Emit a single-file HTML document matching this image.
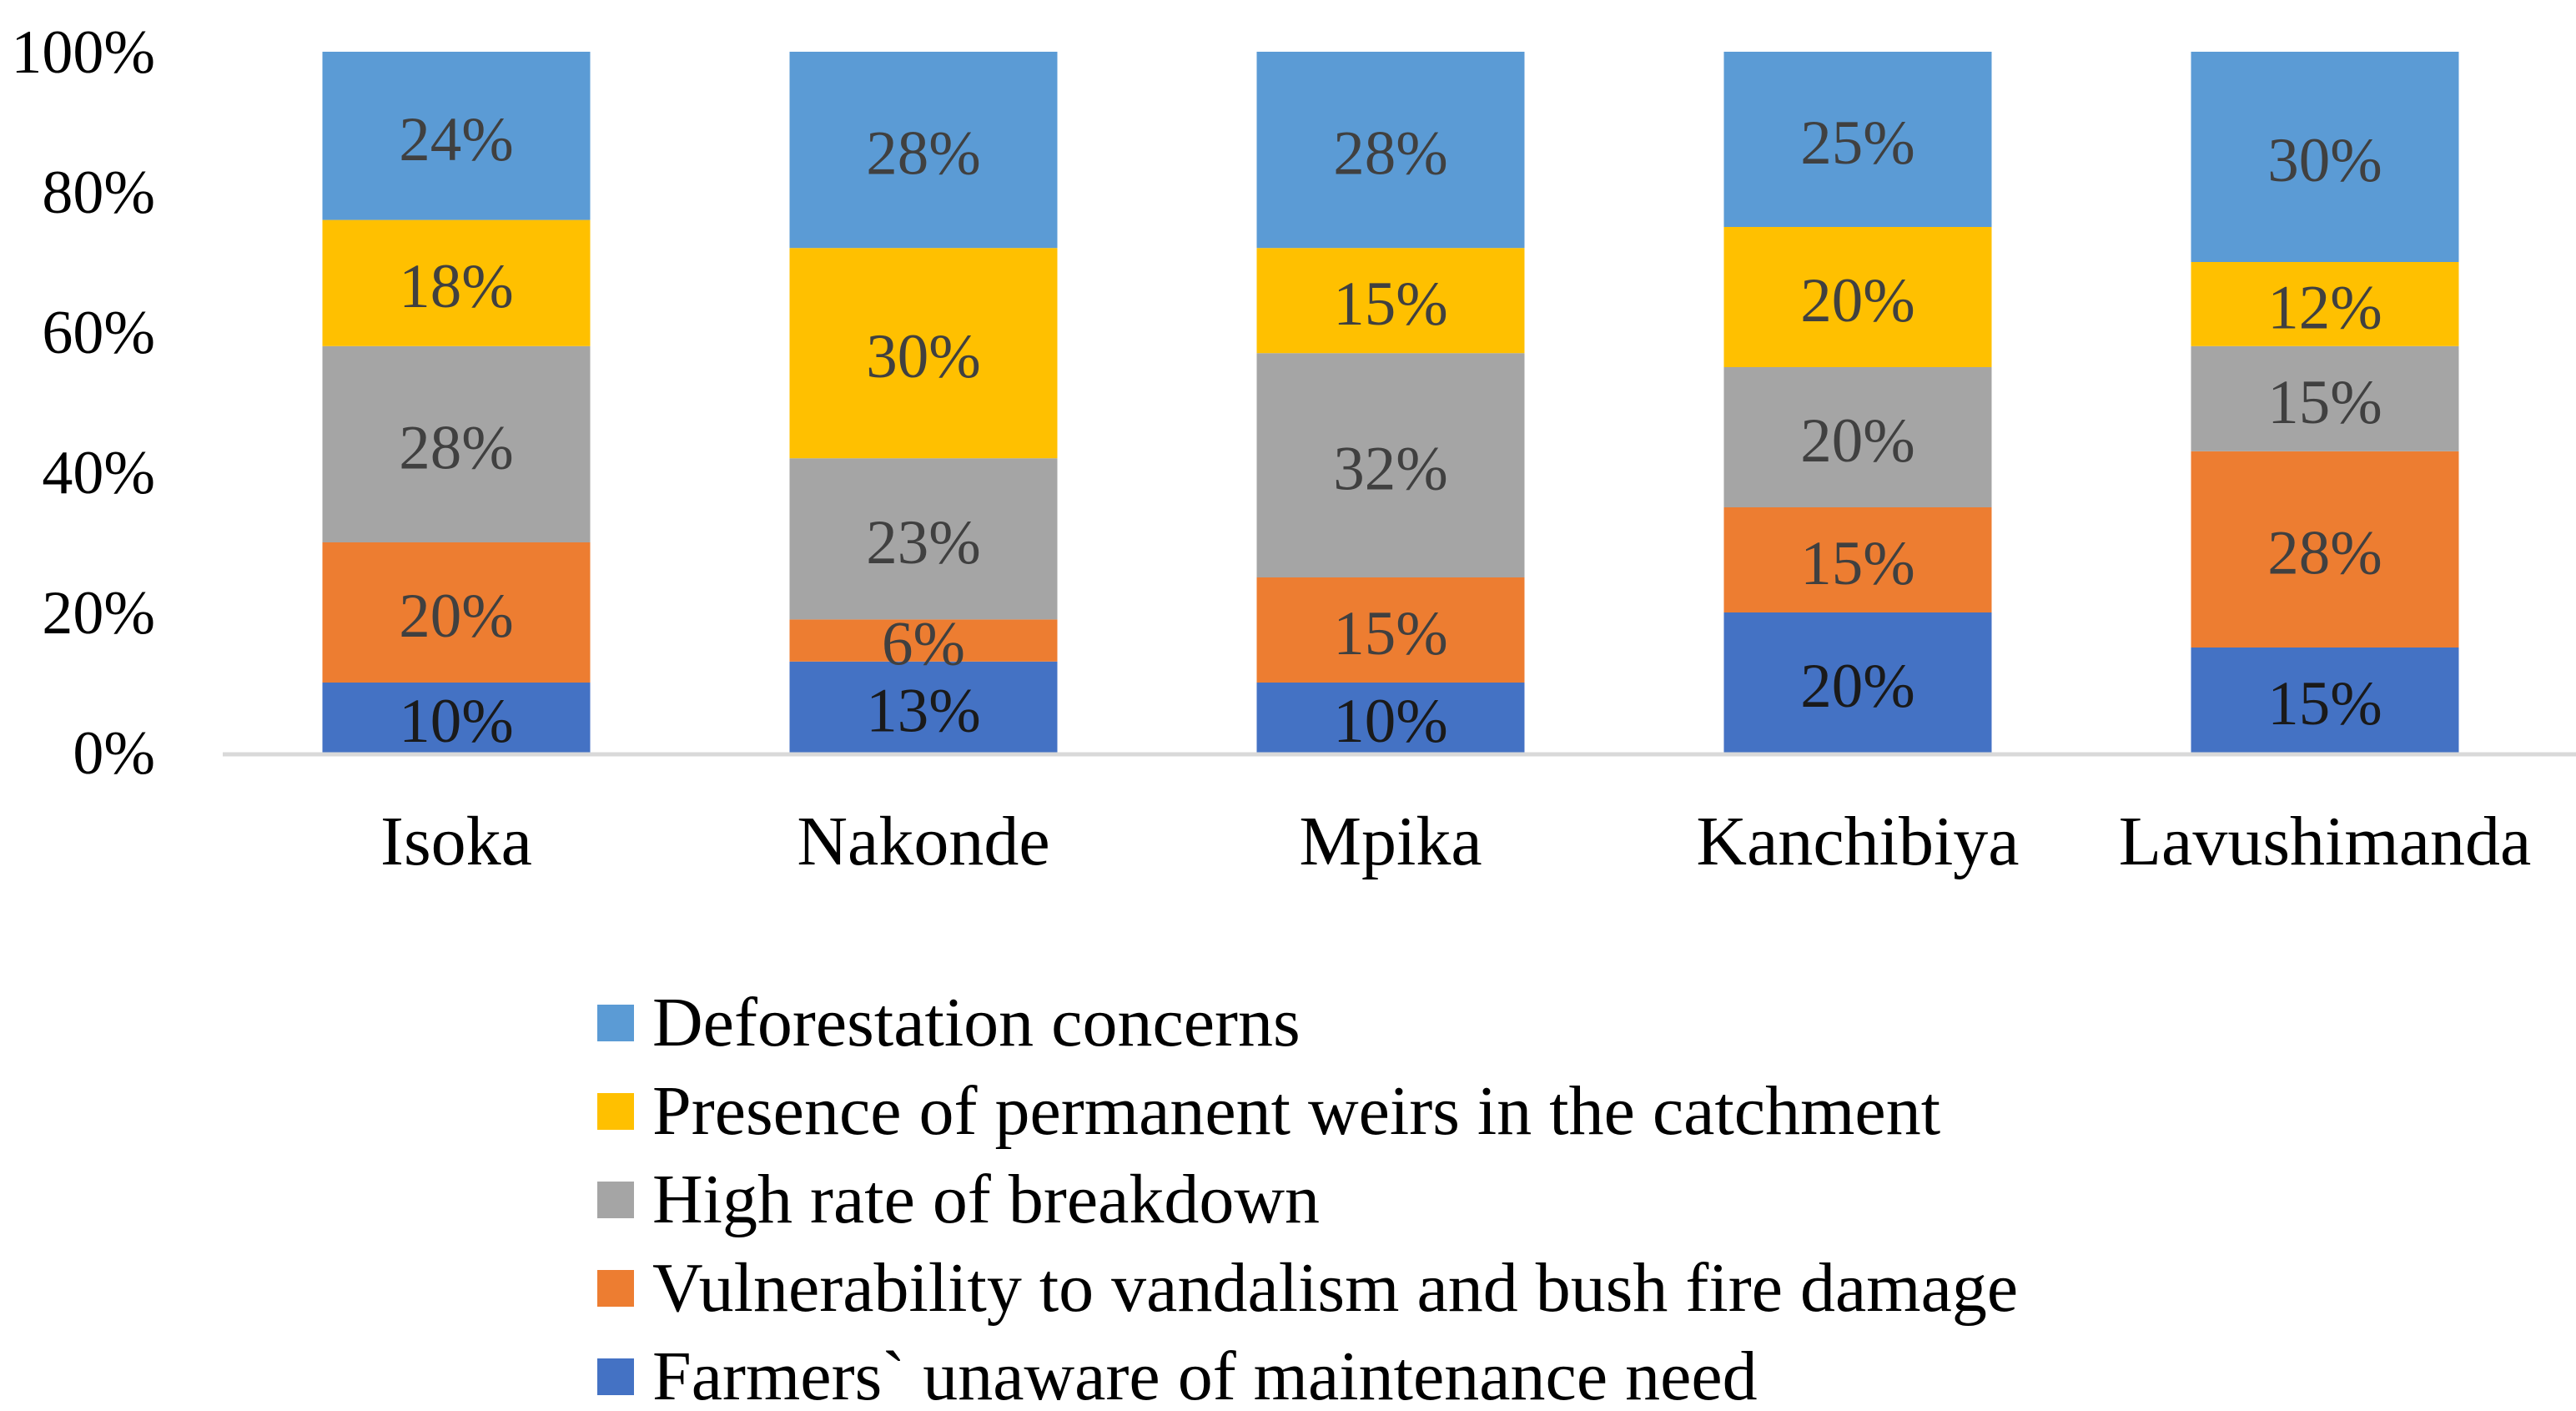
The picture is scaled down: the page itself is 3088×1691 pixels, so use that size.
<!DOCTYPE html>
<html><head><meta charset="utf-8"><style>
html,body{margin:0;padding:0;background:#fff;}
svg{display:block;font-family:"Liberation Serif",serif;}
</style></head><body>
<svg id="chart" width="3088" height="1691" viewBox="0 0 3088 1691" xmlns="http://www.w3.org/2000/svg">
<g id="yaxis"></g>
<g id="bars"></g>
<g id="xaxis"></g>
<g id="legend"></g>
</svg>
<script>
const categories = ["Isoka","Nakonde","Mpika","Kanchibiya","Lavushimanda"];
const seriesNames = ["Farmers` unaware of maintenance need","Vulnerability to vandalism and bush fire damage","High rate of breakdown","Presence of permanent weirs in the catchment","Deforestation concerns"];
const farmers = [10,13,10,20,15];
const vandalism = [20,6,15,15,28];
const breakdown = [28,23,32,20,15];
const weirs = [18,30,15,20,12];
const deforestation = [24,28,28,25,30];
const yTicks = [0,20,40,60,80,100];

const series = [farmers,vandalism,breakdown,weirs,deforestation];
const colors = ["#4472C4","#ED7D31","#A5A5A5","#FFC000","#5B9BD5"];
const NS = "http://www.w3.org/2000/svg";
const y0 = 902, y100 = 62;
const yScale = v => y0 - (y0 - y100) * v / 100;
const band = 560, firstC = 547, barW = 321;
const xCenter = i => firstC + i * band;
function mk(tag, attrs, parent){const e=document.createElementNS(NS,tag);for(const k in attrs)e.setAttribute(k,attrs[k]);parent.appendChild(e);return e;}

const yAxis=document.getElementById('yaxis');
yTicks.forEach(t=>{
  const tx=mk('text',{x:186,y:yScale(t)+25,'text-anchor':'end','font-size':74,fill:'#000'},yAxis);
  tx.textContent=t+'%';
  
  
});

const bars=document.getElementById('bars');
categories.forEach((c,i)=>{
  let cum=0;
  series.forEach((s,si)=>{
    const v=s[i];
    const yt=yScale(cum+v), yb=yScale(cum);
    const r=mk('rect',{x:xCenter(i)-barW/2,y:yt,width:barW,height:yb-yt,fill:colors[si]},bars);
    
    
    const tx=mk('text',{x:xCenter(i),y:(yt+yb)/2+29,'text-anchor':'middle','font-size':75,fill:si===0?'#1a1a1a':'#404040'},bars);
    tx.textContent=v+'%';
    
    
    cum+=v;
  });
});

const xAxis=document.getElementById('xaxis');
const ln=mk('line',{x1:267,x2:3088,y1:y0+2,y2:y0+2,stroke:'#D9D9D9','stroke-width':5},xAxis);


categories.forEach((c,i)=>{
  const tx=mk('text',{x:xCenter(i),y:1036,'text-anchor':'middle','font-size':84,fill:'#000'},xAxis);
  tx.textContent=c;
  
  
});

const legend=document.getElementById('legend');
for(let k=4;k>=0;k--){
  const row=4-k;
  const cy=1226+row*106;
  const g=mk('g',{},legend);
  
  
  mk('rect',{x:716,y:cy-22,width:44,height:44,fill:colors[k]},g);
  const tx=mk('text',{x:782,y:cy+27,'font-size':84,fill:'#000'},g);
  tx.textContent=seriesNames[k];
}
</script>
</body></html>
